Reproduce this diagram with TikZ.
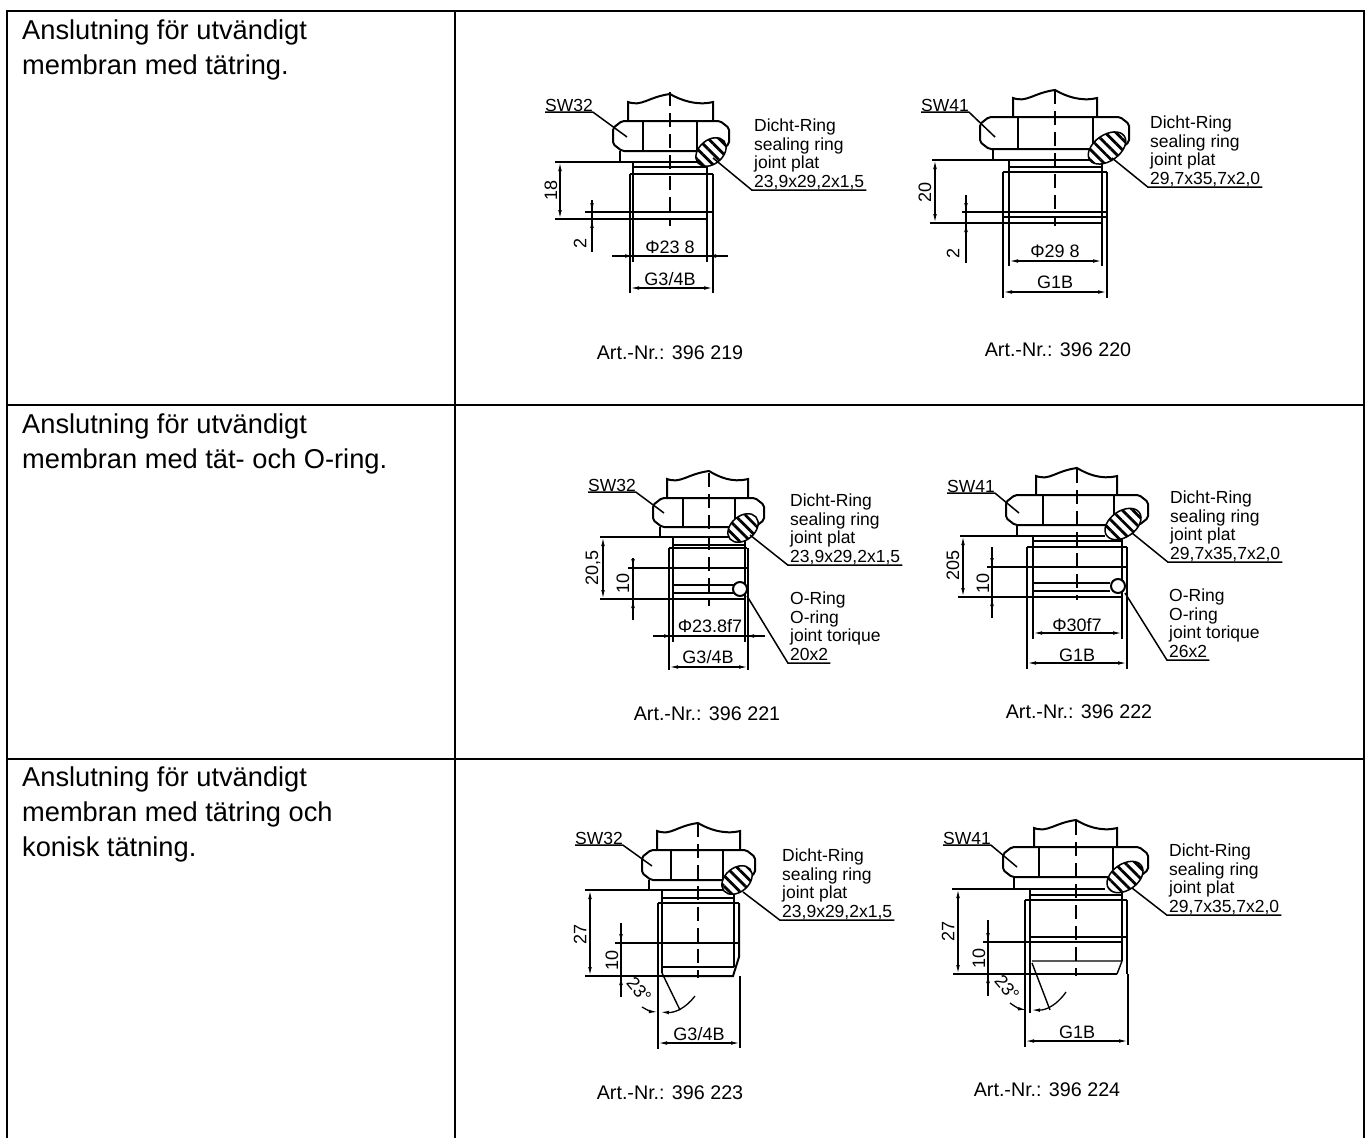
\documentclass[tikz,border=0pt]{standalone}
\usepackage{fontspec}
\setmainfont{Liberation Sans}
\usetikzlibrary{
  arrows.meta,
  patterns.meta
}
\tikzset{
  gridline/.style={line width=2pt},
  outline/.style={line width=2pt},
  thinline/.style={line width=1.4pt},
  centerline/.style={line width=1.6pt, dash pattern=on 14pt off 7pt},
  dimline/.style={line width=1.3pt, {Latex[length=9pt,width=3.6pt]}-{Latex[length=9pt,width=3.6pt]}},
  dimtip/.style={line width=1.3pt, -{Latex[length=9pt,width=3.6pt]}},
  leader/.style={line width=1.5pt},
  ringcut/.style={line width=1.5pt, preaction={fill=white},
    pattern={Lines[angle=-45,distance=7.5pt,line width=2.8pt]}},
  rowtext/.style={font=\fontsize{27.25}{35}\selectfont, align=left, anchor=north west, inner sep=0pt},
  partlabel/.style={font=\fontsize{17.5}{19}\selectfont, anchor=base west, inner xsep=2pt, inner ysep=0pt, text depth=3pt},
  swlabel/.style={font=\fontsize{17.5}{19}\selectfont, anchor=base west, inner xsep=0pt, inner ysep=0pt, text depth=1pt},
  dimlabel/.style={font=\fontsize{18}{20}\selectfont, inner sep=0pt},
  artlabel/.style={font=\fontsize{19.7}{22}\selectfont, inner sep=0pt}
}
% left, face, face, right, top, bottom, shank left, shank right, axis
\newcommand{\nuthead}[9]{%
  \draw[outline,rounded corners=2pt] (#1+9,#5) -- (#4-9,#5) -- (#4,#5+7) -- (#4,#6-7)
    -- (#4-9,#6) -- (#1+9,#6) -- (#1,#6-7) -- (#1,#5+7) -- cycle;
  \draw[outline] (#2,#5) -- (#2,#6);
  \draw[outline] (#3,#5) -- (#3,#6);
  \draw[outline] (#7,#5) -- (#7,#5-19) .. controls (#7+14,#5-14) and (#9-22,#5-24) .. (#9,#5-27)
    .. controls (#9+10,#5-21) and (#8-16,#5-15) .. (#8,#5-19) -- (#8,#5);
}
% vertical and horizontal dimension with the tips outside
\newcommand{\outdimv}[5]{%
  \draw[line width=1.3pt] (#1,#2) -- (#1,#5);
  \draw[dimtip] (#1,#2) -- (#1,#3);
  \draw[dimtip] (#1,#5) -- (#1,#4);
}
\newcommand{\outdimh}[5]{%
  \draw[line width=1.3pt] (#2,#1) -- (#5,#1);
  \draw[dimtip] (#2,#1) -- (#3,#1);
  \draw[dimtip] (#5,#1) -- (#4,#1);
}
\newcommand{\ringnote}[4]{%
  \node[partlabel] (#1a) at (#2,#3-55.5) {Dicht-Ring};
  \node[partlabel] (#1b) at (#2,#3-37) {sealing ring};
  \node[partlabel] (#1c) at (#2,#3-18.5) {joint plat};
  \node[partlabel] (#1) at (#2,#3) {#4};
}
\newcommand{\oringnote}[4]{%
  \node[partlabel] (#1a) at (#2,#3-55.5) {O-Ring};
  \node[partlabel] (#1b) at (#2,#3-37) {O-ring};
  \node[partlabel] (#1c) at (#2,#3-18.5) {joint torique};
  \node[partlabel] (#1) at (#2,#3) {#4};
}

\begin{document}
\begin{tikzpicture}[x=1pt,y=-1pt]
  \useasboundingbox (0,0) rectangle (1367,1138);

  % table
  \draw[gridline] (7,1138) -- (7,11) -- (1364,11) -- (1364,1138);
  \draw[gridline] (455,11) -- (455,1138);
  \draw[gridline] (7,405) -- (1364,405);
  \draw[gridline] (7,759) -- (1364,759);

  \node[rowtext] (row1) at (22,20) {Anslutning för utvändigt\\membran med tätring.};
  \node[rowtext] (row2) at (22,414) {Anslutning för utvändigt\\membran med tät- och O-ring.};
  \node[rowtext] (row3) at (22,767) {Anslutning för utvändigt\\membran med tätring och\\konisk tätning.};

  % 396 219
  \nuthead{613}{643}{697}{729}{121}{151}{628}{713}{670}
  \draw[centerline] (670,92) -- (670,226);
  \draw[outline] (620,151) -- (620,162);
  \draw[outline] (555,162) -- (700,162);
  \draw[thinline] (633,167) -- (707,167);
  \draw[outline] (633,162) -- (633,262);
  \draw[outline] (707,162) -- (707,262);
  \draw[outline] (630,174) -- (713,174);
  \draw[outline] (630,174) -- (630,293);
  \draw[outline] (713,174) -- (713,293);
  \draw[outline] (585,212) -- (713,212);
  \draw[outline] (555,219) -- (707,219);
  \draw[dimline] (560,162) -- (560,219);
  \outdimv{592}{200}{212}{219}{252}
  \outdimh{256}{612}{634}{707}{728}
  \draw[dimline] (630,288) -- (713,288);
  \draw[ringcut,rotate around={40:(711,152)}] (711,152) ellipse (17 and 12);
  \node[dimlabel,rotate=90] (d1a) at (551,190) {18};
  \node[dimlabel,rotate=90] (d1b) at (580,243) {2};
  \node[dimlabel] (d1c) at (670,247) {Φ23 8};
  \node[dimlabel] (d1d) at (670,279) {G3/4B};
  \node[swlabel] (sw1) at (545,111) {SW32};
  \coordinate (sw1end) at (627,137);
  \draw[leader] (sw1.south west) -- (sw1.south east) -- (sw1end);
  \ringnote{note1}{752}{187}{23,9x29,2x1,5}
  \coordinate (ring1) at (713,158);
  \draw[leader] (ring1) -- (note1.south west) -- (note1.south east);
  \node[artlabel] (art1) at (670,353) {Art.-Nr.: 396 219};

  % 396 220
  \nuthead{980}{1018}{1093}{1129}{117}{149}{1013}{1097}{1055}
  \draw[centerline] (1055,90) -- (1055,226);
  \draw[outline] (993,149) -- (993,160);
  \draw[outline] (932,160) -- (1090,160);
  \draw[thinline] (1009,167) -- (1102,167);
  \draw[outline] (1009,160) -- (1009,266);
  \draw[outline] (1102,160) -- (1102,266);
  \draw[outline] (1003,172) -- (1107,172);
  \draw[outline] (1003,172) -- (1003,298);
  \draw[outline] (1107,172) -- (1107,298);
  \draw[outline] (962,212) -- (1107,212);
  \draw[thinline] (1003,217) -- (1107,217);
  \draw[outline] (930,223) -- (1102,223);
  \draw[dimline] (935,160) -- (935,223);
  \outdimv{966}{195}{212}{223}{263}
  \draw[dimline] (1009,261) -- (1102,261);
  \draw[dimline] (1003,292) -- (1107,292);
  \draw[ringcut,rotate around={35:(1107,148)}] (1107,148) ellipse (21 and 13);
  \node[dimlabel,rotate=90] (d2a) at (925,192) {20};
  \node[dimlabel,rotate=90] (d2b) at (953,253) {2};
  \node[dimlabel] (d2c) at (1055,251) {Φ29 8};
  \node[dimlabel] (d2d) at (1055,282) {G1B};
  \node[swlabel] (sw2) at (921,111) {SW41};
  \coordinate (sw2end) at (995,137);
  \draw[leader] (sw2.south west) -- (sw2.south east) -- (sw2end);
  \ringnote{note2}{1148}{184}{29,7x35,7x2,0}
  \coordinate (ring2) at (1112,158);
  \draw[leader] (ring2) -- (note2.south west) -- (note2.south east);
  \node[artlabel] (art2) at (1058,350) {Art.-Nr.: 396 220};

  % 396 221
  \nuthead{653}{683}{735}{764}{498}{527}{667}{748}{709}
  \draw[centerline] (709,473) -- (709,606);
  \draw[outline] (660,527) -- (660,537);
  \draw[outline] (600,537) -- (735,537);
  \draw[thinline] (673,545) -- (745,545);
  \draw[outline] (673,537) -- (673,642);
  \draw[outline] (745,537) -- (745,642);
  \draw[outline] (669,548) -- (747,548);
  \draw[outline] (669,548) -- (669,670);
  \draw[outline] (748,548) -- (748,670);
  \draw[outline] (628,568) -- (747,568);
  \draw[thinline] (673,585) -- (737,585);
  \draw[outline] (673,593) -- (737,593);
  \draw[thinline] (600,599) -- (745,599);
  \draw[dimline] (603,537) -- (603,599);
  \outdimv{633}{558}{568}{599}{620}
  \outdimh{636}{653}{673}{745}{765}
  \draw[dimline] (669,667) -- (748,667);
  \draw[ringcut,rotate around={40:(743,528)}] (743,528) ellipse (17 and 12);
  \draw[outline,fill=white] (740,589) circle (7);
  \node[dimlabel,rotate=90] (d3a) at (593,568) {20,5};
  \node[dimlabel,rotate=90] (d3b) at (623,583) {10};
  \node[dimlabel] (d3c) at (710,626) {Φ23.8f7};
  \node[dimlabel] (d3d) at (708,657) {G3/4B};
  \node[swlabel] (sw3) at (588,491) {SW32};
  \coordinate (sw3end) at (664,513);
  \draw[leader] (sw3.south west) -- (sw3.south east) -- (sw3end);
  \ringnote{note3}{788}{562}{23,9x29,2x1,5}
  \coordinate (ring3) at (750,535);
  \draw[leader] (ring3) -- (note3.south west) -- (note3.south east);
  \oringnote{onote3}{788}{660}{20x2}
  \coordinate (oring3) at (747,596);
  \draw[leader] (oring3) -- (onote3.south west) -- (onote3.south east);
  \node[artlabel] (art3) at (707,714) {Art.-Nr.: 396 221};

  % 396 222
  \nuthead{1006}{1043}{1114}{1148}{495}{525}{1036}{1117}{1077}
  \draw[centerline] (1077,469) -- (1077,600);
  \draw[outline] (1017,525) -- (1017,536);
  \draw[outline] (960,536) -- (1105,536);
  \draw[thinline] (1033,541) -- (1122,541);
  \draw[outline] (1033,536) -- (1033,639);
  \draw[outline] (1122,536) -- (1122,639);
  \draw[outline] (1027,547) -- (1127,547);
  \draw[outline] (1027,547) -- (1027,669);
  \draw[outline] (1127,547) -- (1127,669);
  \draw[thinline] (987,567) -- (1127,567);
  \draw[thinline] (1033,583) -- (1110,583);
  \draw[outline] (1033,591) -- (1110,591);
  \draw[outline] (958,597) -- (1122,597);
  \draw[dimline] (963,536) -- (963,597);
  \outdimv{992}{547}{567}{597}{618}
  \draw[dimline] (1033,633) -- (1122,633);
  \draw[dimline] (1027,663) -- (1127,663);
  \draw[ringcut,rotate around={35:(1123,524)}] (1123,524) ellipse (20 and 13);
  \draw[outline,fill=white] (1118,586) circle (7);
  \node[dimlabel,rotate=90] (d4a) at (953,565) {205};
  \node[dimlabel,rotate=90] (d4b) at (983,583) {10};
  \node[dimlabel] (d4c) at (1077,625) {Φ30f7};
  \node[dimlabel] (d4d) at (1077,655) {G1B};
  \node[swlabel] (sw4) at (947,492) {SW41};
  \coordinate (sw4end) at (1019,513);
  \draw[leader] (sw4.south west) -- (sw4.south east) -- (sw4end);
  \ringnote{note4}{1168}{559}{29,7x35,7x2,0}
  \coordinate (ring4) at (1132,533);
  \draw[leader] (ring4) -- (note4.south west) -- (note4.south east);
  \oringnote{onote4}{1167}{657}{26x2}
  \coordinate (oring4) at (1125,593);
  \draw[leader] (oring4) -- (onote4.south west) -- (onote4.south east);
  \node[artlabel] (art4) at (1079,712) {Art.-Nr.: 396 222};

  % 396 223
  \nuthead{642}{671}{723}{755}{850}{880}{657}{740}{698}
  \draw[centerline] (698,823) -- (698,978);
  \draw[outline] (649,880) -- (649,890);
  \draw[outline] (585,890) -- (725,890);
  \draw[thinline] (662,898) -- (734,898);
  \draw[outline] (662,890) -- (662,973);
  \draw[outline] (734,890) -- (734,903);
  \draw[outline] (658,903) -- (739,903);
  \draw[outline] (658,903) -- (658,1049);
  \draw[outline] (739,903) -- (739,957) -- (733,976) -- (662,976);
  \draw[outline] (734,903) -- (734,967);
  \draw[thinline] (615,943) -- (739,943);
  \draw[outline] (662,967) -- (734,967);
  \draw[thinline] (585,976) -- (662,976);
  \draw[dimline] (590,890) -- (590,976);
  \outdimv{621}{923}{943}{976}{997}
  \draw[thinline] (740,976) -- (740,1048);
  \draw[thinline] (662,973) -- (680,1010);
  \draw[dimtip] (695,996) to[bend left=28] (660,1012);
  \draw[dimtip] (642,1007) to[bend right=14] (658,1012);
  \draw[dimline] (658,1043) -- (740,1043);
  \draw[ringcut,rotate around={40:(737,880)}] (737,880) ellipse (17 and 12);
  \node[dimlabel,rotate=90] (d5a) at (580,934) {27};
  \node[dimlabel,rotate=90] (d5b) at (612,960) {10};
  \node[dimlabel,rotate=-50] (d5c) at (639,990) {23°};
  \node[dimlabel] (d5d) at (699,1034) {G3/4B};
  \node[swlabel] (sw5) at (575,844) {SW32};
  \coordinate (sw5end) at (652,866);
  \draw[leader] (sw5.south west) -- (sw5.south east) -- (sw5end);
  \ringnote{note5}{780}{917}{23,9x29,2x1,5}
  \coordinate (ring5) at (743,892);
  \draw[leader] (ring5) -- (note5.south west) -- (note5.south east);
  \node[artlabel] (art5) at (670,1093) {Art.-Nr.: 396 223};

  % 396 224
  \nuthead{1003}{1039}{1113}{1148}{847}{877}{1034}{1117}{1076}
  \draw[centerline] (1076,821) -- (1076,976);
  \draw[outline] (1014,877) -- (1014,889);
  \draw[outline] (952,889) -- (1105,889);
  \draw[thinline] (1030,895) -- (1122,895);
  \draw[outline] (1030,889) -- (1030,1013);
  \draw[outline] (1122,889) -- (1122,961);
  \draw[outline] (1025,900) -- (1127,900);
  \draw[outline] (1025,900) -- (1025,1047);
  \draw[outline] (1127,900) -- (1127,974);
  \draw[thinline] (1030,937) -- (1127,937);
  \draw[outline] (983,942) -- (1122,942);
  \draw[thinline] (1032,961) -- (1122,961) -- (1117,974);
  \draw[outline] (953,974) -- (1117,974);
  \draw[dimline] (958,889) -- (958,974);
  \outdimv{988}{920}{942}{974}{996}
  \draw[thinline] (1128,974) -- (1128,1045);
  \draw[thinline] (1032,963) -- (1050,1010);
  \draw[dimtip] (1066,992) to[bend left=28] (1031,1010);
  \draw[dimtip] (1010,1003) to[bend right=14] (1027,1010);
  \draw[dimline] (1025,1041) -- (1128,1041);
  \draw[ringcut,rotate around={35:(1125,877)}] (1125,877) ellipse (20 and 13);
  \node[dimlabel,rotate=90] (d6a) at (948,931) {27};
  \node[dimlabel,rotate=90] (d6b) at (979,958) {10};
  \node[dimlabel,rotate=-50] (d6c) at (1007,988) {23°};
  \node[dimlabel] (d6d) at (1077,1032) {G1B};
  \node[swlabel] (sw6) at (943,844) {SW41};
  \coordinate (sw6end) at (1017,867);
  \draw[leader] (sw6.south west) -- (sw6.south east) -- (sw6end);
  \ringnote{note6}{1167}{912}{29,7x35,7x2,0}
  \coordinate (ring6) at (1132,888);
  \draw[leader] (ring6) -- (note6.south west) -- (note6.south east);
  \node[artlabel] (art6) at (1047,1090) {Art.-Nr.: 396 224};

\end{tikzpicture}
\end{document}
